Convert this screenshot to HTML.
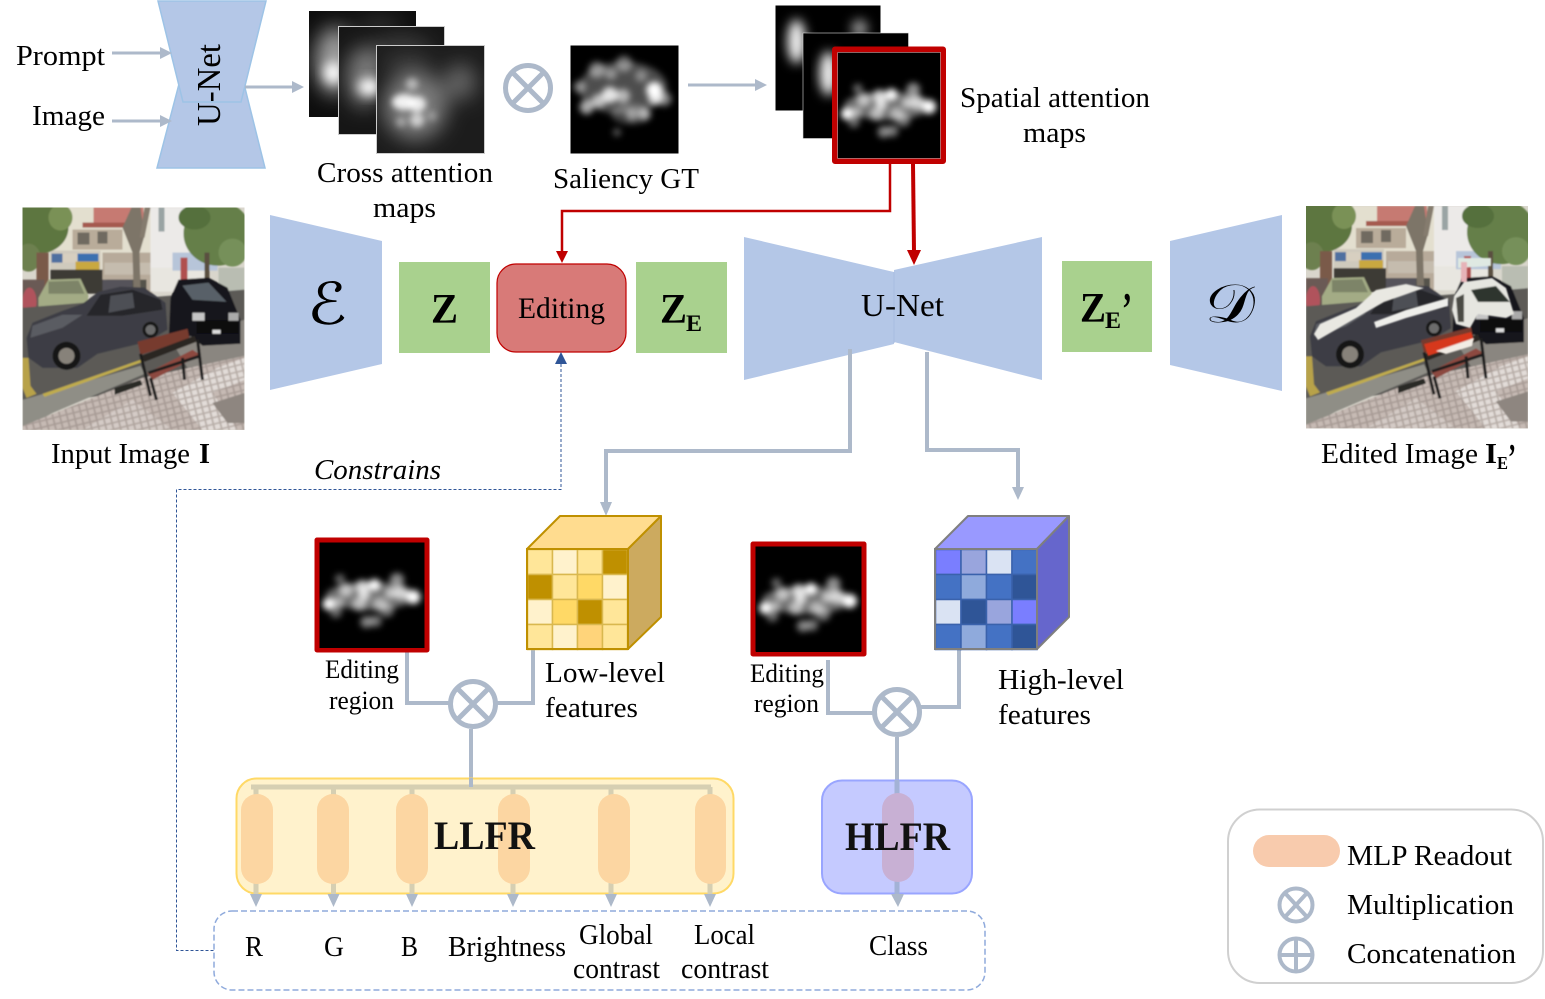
<!DOCTYPE html>
<html><head><meta charset="utf-8"><style>
html,body{margin:0;padding:0;background:#fff}
svg{display:block}
text{font-family:"Liberation Serif","DejaVu Serif",serif;fill:#000;font-size:28px}
.b{font-weight:bold}
</style></head><body>
<svg width="1545" height="999" viewBox="0 0 1545 999" xmlns="http://www.w3.org/2000/svg">
<defs>
<filter id="b1" x="-30%" y="-30%" width="160%" height="160%"><feGaussianBlur stdDeviation="3.2"/></filter>
<filter id="b2" x="-50%" y="-50%" width="200%" height="200%"><feGaussianBlur stdDeviation="5.5"/></filter>
<filter id="b3" x="-50%" y="-50%" width="200%" height="200%"><feGaussianBlur stdDeviation="10"/></filter>
<filter id="p" x="-5%" y="-5%" width="110%" height="110%"><feGaussianBlur stdDeviation="0.8"/></filter>
<pattern id="tile" width="7" height="6.4" patternUnits="userSpaceOnUse" patternTransform="rotate(-14)"><rect width="7" height="6.4" fill="#a89c96"/><rect x="0.8" y="0.8" width="5.2" height="4.8" fill="#c6bab4"/></pattern>
<pattern id="tile2" width="7" height="6.4" patternUnits="userSpaceOnUse" patternTransform="rotate(-14)"><rect width="7" height="6.4" fill="#b8aea8"/><rect x="0.8" y="0.8" width="5.2" height="4.8" fill="#e2dcd8"/></pattern>

<symbol id="sal" viewBox="0 0 103 105" preserveAspectRatio="none">
<rect width="103" height="105" fill="#000"/>
<g filter="url(#b1)" fill="#fff">
<ellipse cx="50" cy="53" rx="44" ry="14" opacity=".42"/>
<circle cx="9" cy="61" r="6"/><circle cx="26" cy="47" r="7" opacity=".6"/><circle cx="18" cy="60" r="6" opacity=".5"/>
<circle cx="42" cy="44" r="7" opacity=".75"/><circle cx="54" cy="42" r="6"/><circle cx="39" cy="61" r="7" opacity=".55"/>
<circle cx="76" cy="37" r="7" opacity=".55"/><circle cx="92" cy="54" r="7"/><circle cx="80" cy="50" r="7" opacity=".7"/>
<circle cx="59" cy="61" r="7" opacity=".5"/><circle cx="66" cy="67" r="7" opacity=".45"/><circle cx="46" cy="79" r="6" opacity=".5"/>
<circle cx="16" cy="69" r="6" opacity=".4"/><circle cx="70" cy="50" r="6" opacity=".6"/><circle cx="20" cy="36" r="5" opacity=".4"/><circle cx="55" cy="78" r="6" opacity=".45"/><circle cx="44" cy="52" r="6" opacity=".7"/>
</g></symbol>

<symbol id="photo" viewBox="0 0 222 222" preserveAspectRatio="none">
<rect width="222" height="222" fill="#d9d6cc"/>
<g filter="url(#p)">
<rect x="28" y="0" width="100" height="85" fill="#e3dfcf"/>
<rect x="71" y="0" width="50" height="16" fill="#c67a72"/>
<rect x="60" y="15" width="60" height="5" fill="#a55a50"/>
<rect x="50" y="22" width="50" height="20" fill="#b9ac9a"/>
<rect x="55" y="25" width="12" height="12" fill="#6f6a60"/><rect x="75" y="24" width="10" height="12" fill="#6f6a60"/>
<rect x="28" y="43" width="50" height="32" fill="#cfcabd"/>
<rect x="29" y="46" width="11" height="9" fill="#4f6fa0"/><rect x="40" y="46" width="15" height="9" fill="#d7cfc0"/>
<rect x="55" y="46" width="21" height="8" fill="#3a6fb0"/><rect x="53" y="54" width="24" height="10" fill="#c9a83f"/>
<rect x="28" y="62" width="52" height="24" fill="#3d3b36"/>
<rect x="80" y="45" width="50" height="40" fill="#b7aa9a"/><rect x="82" y="55" width="46" height="12" fill="#c5bcae"/><rect x="84" y="72" width="40" height="14" fill="#55524c"/>
<rect x="128" y="0" width="40" height="70" fill="#eceae8"/><rect x="136" y="0" width="6" height="24" fill="#9aa4a4"/>
<rect x="128" y="60" width="55" height="24" fill="#e8e6e0"/><rect x="150" y="45" width="45" height="18" fill="#b7c5d9"/>
<rect x="158" y="50" width="7" height="22" fill="#b05050"/>
<ellipse cx="195" cy="26" rx="34" ry="32" fill="#657f48"/><ellipse cx="172" cy="10" rx="16" ry="12" fill="#55703c"/><ellipse cx="210" cy="45" rx="14" ry="14" fill="#76905a"/><rect x="182" y="45" width="5" height="30" fill="#5a5040"/>
<rect x="196" y="60" width="26" height="30" fill="#b9bdb2"/>
<ellipse cx="16" cy="20" rx="30" ry="26" fill="#5d7640"/><ellipse cx="38" cy="10" rx="12" ry="13" fill="#7a9156"/><ellipse cx="6" cy="50" rx="12" ry="14" fill="#6d8050"/>
<rect x="14" y="45" width="12" height="60" fill="#7a5a48"/>
<polygon points="109,0 118,0 122,28 117,45 118,80 111,80 110,45 100,20" fill="#7d7468"/><polygon points="122,0 128,0 122,30 117,30" fill="#857b6e"/>
<rect x="0" y="72" width="22" height="40" fill="#6b5a55"/><ellipse cx="7" cy="94" rx="7" ry="14" fill="#b0525c"/>
<polygon points="16,90 26,72 58,71 66,88 64,100 16,102" fill="#a3ab85"/><polygon points="26,74 56,73 62,86 26,86" fill="#7d8468"/>
<rect x="80" y="72" width="30" height="12" fill="#55525a"/>
<polygon points="0,100 222,82 222,165 0,200" fill="#5b5a57"/>
<polygon points="150,135 222,112 222,150 165,160" fill="#8a8680"/>
<polygon points="0,192 118,158 122,166 30,205 0,222" fill="#8f8e86"/>
<polygon points="0,222 0,218 120,170 222,148 222,222" fill="url(#tile)"/>
<polygon points="150,185 195,160 222,150 222,172 190,185 215,222 180,222" fill="url(#tile2)"/>
<polygon points="60,222 110,192 150,222" fill="url(#tile2)" opacity=".5"/>
<polygon points="190,195 222,185 222,215 205,215" fill="#8e8680"/>
<polygon points="0,150 6,150 8,178 14,186 4,190 0,180" fill="#b8a248"/>
<polygon points="20,186 118,152 120,154 22,189" fill="#c0ac4e"/>
<polygon points="146,136 148,90 156,72 186,70 205,80 218,112 218,136 180,138 168,128" fill="#19191b"/>
<polygon points="160,78 186,75 204,94 170,92" fill="#596068"/>
<rect x="174" y="112" width="42" height="14" fill="#0e0e10"/><rect x="170" y="105" width="12" height="8" fill="#c5c5c5"/><rect x="206" y="105" width="10" height="8" fill="#aaa"/>
<rect x="190" y="122" width="8" height="4" fill="#ddd"/>
<polygon points="4,130 10,115 40,103 60,96 76,84 98,79 122,80 143,95 145,122 125,134 75,146 55,160 20,160 6,150" fill="#3d3e44"/>
<polygon points="64,108 78,87 110,82 138,92 140,102 100,108" fill="#26272b"/><polygon points="88,88 110,85 112,100 86,105" fill="#4d4f55"/>
<polygon points="10,118 40,107 60,107 40,120 8,130" fill="#5a5c62"/>
<circle cx="44" cy="148" r="14" fill="#191919"/><circle cx="44" cy="148" r="8" fill="#87827a"/><circle cx="128" cy="122" r="8" fill="#191919"/><circle cx="128" cy="122" r="5" fill="#6c6c6c"/>
<polygon points="115,134 165,121 167,131 118,147" fill="#773a2f"/>
<polygon points="118,148 172,128 174,134 122,154" fill="#2b2624"/>
<polygon points="125,165 170,142 178,147 130,172" fill="#8c4a40"/>
<path d="M118 146 L128 188 M128 170 L134 192 M175 132 L180 172 M160 150 L162 172 M126 165 L178 148" stroke="#1f1d1c" stroke-width="3" fill="none"/>
<polygon points="92,180 118,172 120,177 92,187" fill="#2a2a28"/>
</g>
</symbol>
</defs>

<!-- Top U-Net -->
<polygon points="157,168 179,84 245,88 265,168" fill="#b4c7e7" stroke="#9dc3e6" stroke-width="1.5"/>
<polygon points="158,1 266,1 241,102 183,102" fill="#b4c7e7" stroke="#9dc3e6" stroke-width="1.5"/>
<text transform="translate(220,126) rotate(-90)" style="font-size:34px" textLength="82" lengthAdjust="spacingAndGlyphs">U-Net</text>

<text x="16" y="65" textLength="89" lengthAdjust="spacingAndGlyphs">Prompt</text>
<text x="32" y="125" textLength="73" lengthAdjust="spacingAndGlyphs">Image</text>
<g stroke="#adb9ca" stroke-width="3" fill="none"><path d="M112 53H162M112 121H162M245 87H294M688 85H757"/></g>
<g fill="#adb9ca"><path d="M160 47L172 53L160 59ZM160 115L172 121L160 127ZM292 81L304 87L292 93ZM755 79L767 85L755 91Z"/></g>

<!-- Cross attention maps -->
<svg x="309" y="11" width="107" height="106" viewBox="0 0 107 106"><rect width="107" height="106" fill="#0d0d0d"/><g fill="#fff" filter="url(#b3)"><ellipse cx="26" cy="50" rx="20" ry="34" opacity=".6"/><ellipse cx="70" cy="15" rx="25" ry="12" opacity=".12"/></g><g fill="#fff" filter="url(#b2)"><ellipse cx="24" cy="62" rx="9" ry="11"/></g></svg>
<rect x="338.500" y="26.500" width="106" height="108" fill="#161616" stroke="#ccc" stroke-width="1"/>
<svg x="339" y="27" width="105" height="107" viewBox="0 0 105 107"><g fill="#fff" filter="url(#b3)"><ellipse cx="25" cy="50" rx="18" ry="30" opacity=".42"/><ellipse cx="62" cy="30" rx="34" ry="22" opacity=".16"/></g><g fill="#fff" filter="url(#b2)"><ellipse cx="30" cy="60" rx="11" ry="9"/></g></svg>
<rect x="376.500" y="45.500" width="108" height="108" fill="#1c1c1c" stroke="#ccc" stroke-width="1"/>
<svg x="377" y="46" width="107" height="107" viewBox="0 0 107 107"><g fill="#fff" filter="url(#b3)"><ellipse cx="38" cy="60" rx="32" ry="34" opacity=".42"/><ellipse cx="83" cy="36" rx="16" ry="18" opacity=".32"/><ellipse cx="30" cy="18" rx="24" ry="12" opacity=".12"/></g><g fill="#fff" filter="url(#b1)"><ellipse cx="27" cy="56" rx="12" ry="8" opacity=".9"/><ellipse cx="40" cy="58" rx="9" ry="8" opacity=".85"/><circle cx="40" cy="74" r="7" opacity=".65"/><circle cx="24" cy="76" r="5" opacity=".4"/><circle cx="35" cy="38" r="6" opacity=".5"/><circle cx="55" cy="70" r="5" opacity=".3"/></g></svg>

<text x="317" y="182" textLength="176" lengthAdjust="spacingAndGlyphs">Cross attention</text>
<text x="373" y="217" textLength="63" lengthAdjust="spacingAndGlyphs">maps</text>

<!-- multiply top -->
<g fill="none" stroke="#adb9ca" stroke-width="5"><circle cx="528" cy="88" r="22.500"/><path d="M512 72L544 104M544 72L512 104"/></g>

<!-- Saliency GT -->
<svg x="570.500" y="45.500" width="108" height="108" viewBox="0 0 107 107"><rect width="107" height="107" fill="#000"/><g fill="#fff" filter="url(#b1)">
<ellipse cx="52" cy="42" rx="44" ry="26" opacity=".3"/><ellipse cx="60" cy="68" rx="20" ry="10" opacity=".25"/>
<circle cx="83" cy="44" r="8"/><circle cx="84" cy="52" r="7" opacity=".8"/><circle cx="39" cy="49" r="8" opacity=".85"/><circle cx="28" cy="55" r="7" opacity=".65"/><circle cx="16" cy="61" r="7" opacity=".65"/><circle cx="52" cy="50" r="7" opacity=".6"/><circle cx="73" cy="68" r="6" opacity=".6"/><circle cx="61" cy="69" r="6" opacity=".45"/><circle cx="26" cy="24" r="8" opacity=".45"/><circle cx="53" cy="18" r="8" opacity=".4"/><circle cx="9" cy="41" r="6" opacity=".45"/><circle cx="46" cy="86" r="4" opacity=".35"/><circle cx="93" cy="53" r="7" opacity=".5"/><circle cx="70" cy="30" r="6" opacity=".35"/><circle cx="40" cy="28" r="6" opacity=".4"/></g></svg>
<text x="553" y="188" textLength="146" lengthAdjust="spacingAndGlyphs">Saliency GT</text>

<!-- Spatial attention -->
<svg x="775.500" y="5.500" width="105" height="105" viewBox="0 0 105 105"><rect width="105" height="105" fill="#000"/><g fill="#fff" filter="url(#b2)"><ellipse cx="21" cy="36" rx="9" ry="22" opacity=".95"/><ellipse cx="84" cy="23" rx="8" ry="9" opacity=".6"/></g></svg>
<rect x="803" y="33" width="105.500" height="105.500" fill="#000" stroke="#ddd" stroke-width=".6"/>
<svg x="803.500" y="33.500" width="105" height="105" viewBox="0 0 105 105"><g fill="#fff" filter="url(#b2)"><ellipse cx="25" cy="40" rx="9" ry="22" opacity=".95"/></g></svg>
<rect x="835" y="49.500" width="108" height="111.500" fill="none" stroke="#c00000" stroke-width="6" stroke-linejoin="round"/>
<use href="#sal" x="838" y="52.500" width="102" height="105.500"/>
<rect x="837.700" y="52.500" width="103" height="106" fill="none" stroke="#aaa" stroke-width=".6"/>
<text x="960" y="107" textLength="190" lengthAdjust="spacingAndGlyphs">Spatial attention</text>
<text x="1023" y="142" textLength="63" lengthAdjust="spacingAndGlyphs">maps</text>

<!-- Photos -->
<use href="#photo" x="22.500" y="207.500" width="222" height="222.500"/>
<g transform="translate(1306,206)">
<use href="#photo" x="0" y="0" width="222" height="222.500"/>
<g filter="url(#p)">
<polygon points="8,128 14,118 50,102 70,84 100,78 118,82 78,96 50,112 12,134" fill="#e9e8e2"/>
<polygon points="68,116 100,104 142,92 142,100 100,112 70,122" fill="#eeeeea"/>
<polygon points="146,104 148,90 158,76 186,72 200,82 208,108 200,112 172,108 164,122 150,118" fill="#e6e6e0"/>
<polygon points="165,84 190,80 204,96 172,96" fill="#2e352e"/>
<polygon points="150,92 158,88 158,116 152,116" fill="#4b4b44"/>
<polygon points="118,138 165,126 168,134 150,141 122,150" fill="#d6391b"/>
<polygon points="130,145 168,132 166,140 140,148" fill="#f2ece4"/>
<polygon points="152,52 185,52 185,60 152,62" fill="#dfe9e2"/>
<rect x="155" y="56" width="6" height="20" fill="#e6b3b8"/>
</g></g>
<text x="51" y="463" textLength="139" lengthAdjust="spacingAndGlyphs">Input Image</text>
<text x="199" y="463" class="b" textLength="11" lengthAdjust="spacingAndGlyphs">I</text>
<text x="1321" y="463" textLength="157" lengthAdjust="spacingAndGlyphs">Edited Image</text>
<text x="1485" y="463" class="b" textLength="12" lengthAdjust="spacingAndGlyphs">I</text>
<text x="1497" y="469" class="b" style="font-size:18px" textLength="11" lengthAdjust="spacingAndGlyphs">E</text>
<text x="1508" y="470" class="b" style="font-size:38px" textLength="8" lengthAdjust="spacingAndGlyphs">’</text>

<!-- Main pipeline -->
<polygon points="270,215 382,241 382,364 270,390" fill="#b4c7e7"/>
<text x="307" y="324" style="font-size:58px;font-family:'DejaVu Serif','DejaVu Sans',serif" textLength="40" lengthAdjust="spacingAndGlyphs">ℰ</text>
<rect x="399" y="262" width="91" height="91" fill="#a9d18e"/>
<text x="431" y="323" class="b" style="font-size:42px" textLength="27" lengthAdjust="spacingAndGlyphs">Z</text>
<rect x="497" y="264" width="129" height="88" rx="19" fill="#d87a78" stroke="#c00000" stroke-width="1.200"/>
<text x="518" y="318" style="font-size:30px" textLength="87" lengthAdjust="spacingAndGlyphs">Editing</text>
<rect x="636" y="262" width="91" height="91" fill="#a9d18e"/>
<text x="660" y="323" class="b" style="font-size:42px" textLength="27" lengthAdjust="spacingAndGlyphs">Z</text>
<text x="686" y="331" class="b" style="font-size:23px" textLength="16" lengthAdjust="spacingAndGlyphs">E</text>
<polygon points="744,237 894,272 894,344 744,380" fill="#b4c7e7"/>
<polygon points="894,270 1042,237 1042,380 894,342" fill="#b4c7e7"/>
<line x1="894" y1="272" x2="894" y2="343" stroke="#a7bce0" stroke-width="1"/>
<text x="861" y="316" style="font-size:32px" textLength="83" lengthAdjust="spacingAndGlyphs">U-Net</text>
<rect x="1062" y="261" width="90" height="91" fill="#a9d18e"/>
<text x="1080" y="322" class="b" style="font-size:42px" textLength="26" lengthAdjust="spacingAndGlyphs">Z</text>
<text x="1105" y="328" class="b" style="font-size:23px" textLength="16" lengthAdjust="spacingAndGlyphs">E</text>
<text x="1122" y="324" class="b" style="font-size:46px" textLength="10" lengthAdjust="spacingAndGlyphs">’</text>
<polygon points="1170,241 1282,215 1282,391 1170,365" fill="#b4c7e7"/>
<text x="1205" y="322" style="font-size:54px;font-family:'DejaVu Serif','DejaVu Sans',serif" textLength="50" lengthAdjust="spacingAndGlyphs">𝒟</text>
<!-- red connectors -->
<path d="M890 164V211H562V252" fill="none" stroke="#c00000" stroke-width="2.500"/>
<path d="M556 251H568L562 263Z" fill="#c00000"/>
<path d="M913 164L914 252" fill="none" stroke="#c00000" stroke-width="4"/>
<path d="M907 250H921L914 265Z" fill="#c00000"/>
<!-- grey connectors -->
<g fill="none" stroke="#adb9ca" stroke-width="4">
<path d="M850 349V451H606V503"/>
<path d="M927 352V450H1018V488"/>
<path d="M407 652V703H449M533 650V703H497M471 729V780"/>
<path d="M828 660V713H873M959 650V707H921M897 737V782"/>
</g>
<path d="M600 502H612L606 516ZM1012 487H1024L1018 500Z" fill="#adb9ca"/>
<!-- dashed -->
<path d="M561 364V489.500H176.500V950.500H214" fill="none" stroke="#2f5597" stroke-width="1" stroke-dasharray="3 2"/>
<path d="M555 364H567L561 352Z" fill="#2f5597"/>
<text x="314" y="479" style="font-style:italic" textLength="127" lengthAdjust="spacingAndGlyphs">Constrains</text>

<!-- Editing regions -->
<rect x="317" y="540" width="110" height="110" fill="#000" stroke="#c00000" stroke-width="5" stroke-linejoin="round"/>
<use href="#sal" x="319.500" y="543" width="105" height="105"/>
<rect x="753" y="544" width="111" height="110" fill="#000" stroke="#c00000" stroke-width="5" stroke-linejoin="round"/>
<use href="#sal" x="756" y="547" width="105" height="105"/>
<text x="325" y="678" style="font-size:26px" textLength="74" lengthAdjust="spacingAndGlyphs">Editing</text>
<text x="329" y="709" style="font-size:26px" textLength="65" lengthAdjust="spacingAndGlyphs">region</text>
<text x="750" y="682" style="font-size:26px" textLength="74" lengthAdjust="spacingAndGlyphs">Editing</text>
<text x="754" y="712" style="font-size:26px" textLength="65" lengthAdjust="spacingAndGlyphs">region</text>

<!-- Low cube -->
<g stroke="#bf9000" stroke-width="2" stroke-linejoin="round">
<polygon points="527,549 560,516 661,516 628,549" fill="#ffdc8f"/>
<polygon points="628,549 661,516 661,617 628,649" fill="#ccaa5f"/>
</g>
<g stroke="#d9b84f" stroke-width="1.500">
<rect x="527.500" y="549.500" width="25" height="25" fill="#ffe699"/><rect x="552.500" y="549.500" width="25" height="25" fill="#fff2cc"/><rect x="577.500" y="549.500" width="25" height="25" fill="#ffe699"/><rect x="602.500" y="549.500" width="25" height="25" fill="#bf9000"/>
<rect x="527.500" y="574.500" width="25" height="25" fill="#bf9000"/><rect x="552.500" y="574.500" width="25" height="25" fill="#ffe699"/><rect x="577.500" y="574.500" width="25" height="25" fill="#ffd966"/><rect x="602.500" y="574.500" width="25" height="25" fill="#fff2cc"/>
<rect x="527.500" y="599.500" width="25" height="25" fill="#fff2cc"/><rect x="552.500" y="599.500" width="25" height="25" fill="#ffd966"/><rect x="577.500" y="599.500" width="25" height="25" fill="#bf9000"/><rect x="602.500" y="599.500" width="25" height="25" fill="#ffe699"/>
<rect x="527.500" y="624.500" width="25" height="25" fill="#ffe699"/><rect x="552.500" y="624.500" width="25" height="25" fill="#fff2cc"/><rect x="577.500" y="624.500" width="25" height="25" fill="#ffd47a"/><rect x="602.500" y="624.500" width="25" height="25" fill="#ffe699"/>
</g>
<rect x="527" y="549" width="101" height="100" fill="none" stroke="#bf9000" stroke-width="2"/>
<text x="545" y="682" textLength="120" lengthAdjust="spacingAndGlyphs">Low-level</text>
<text x="545" y="717" textLength="93" lengthAdjust="spacingAndGlyphs">features</text>

<!-- High cube -->
<g stroke="#7f7f7f" stroke-width="2" stroke-linejoin="round">
<polygon points="935,549 968,516 1069,516 1037,549" fill="#9999ff"/>
<polygon points="1037,549 1069,516 1069,617 1037,649" fill="#6666cc"/>
</g>
<g stroke="#3a62ac" stroke-width="1.500">
<rect x="935.500" y="549.500" width="25.500" height="25" fill="#7a7eff"/><rect x="961" y="549.500" width="25.500" height="25" fill="#99a5dd"/><rect x="986.500" y="549.500" width="25.500" height="25" fill="#dae3f3"/><rect x="1012" y="549.500" width="25" height="25" fill="#4472c4"/>
<rect x="935.500" y="574.500" width="25.500" height="25" fill="#4472c4"/><rect x="961" y="574.500" width="25.500" height="25" fill="#8faadc"/><rect x="986.500" y="574.500" width="25.500" height="25" fill="#4472c4"/><rect x="1012" y="574.500" width="25" height="25" fill="#2f5597"/>
<rect x="935.500" y="599.500" width="25.500" height="25" fill="#dae3f3"/><rect x="961" y="599.500" width="25.500" height="25" fill="#2f5597"/><rect x="986.500" y="599.500" width="25.500" height="25" fill="#99a5dd"/><rect x="1012" y="599.500" width="25" height="25" fill="#7a7eff"/>
<rect x="935.500" y="624.500" width="25.500" height="25" fill="#4472c4"/><rect x="961" y="624.500" width="25.500" height="25" fill="#8faadc"/><rect x="986.500" y="624.500" width="25.500" height="25" fill="#4472c4"/><rect x="1012" y="624.500" width="25" height="25" fill="#2f5597"/>
</g>
<rect x="935" y="549" width="102" height="100" fill="none" stroke="#7f7f7f" stroke-width="2"/>
<text x="998" y="689" textLength="126" lengthAdjust="spacingAndGlyphs">High-level</text>
<text x="998" y="724" textLength="93" lengthAdjust="spacingAndGlyphs">features</text>

<!-- Multiply circles -->
<g fill="#fff" stroke="#adb9ca" stroke-width="5"><circle cx="473" cy="704" r="22.500"/><path d="M457 688L489 720M489 688L457 720" fill="none"/>
<circle cx="897" cy="712" r="22.500"/><path d="M881 696L913 728M913 696L881 728" fill="none"/></g>

<!-- LLFR -->
<rect x="236.500" y="778.500" width="497" height="115" rx="20" fill="#fff2cc" stroke="#ffd966" stroke-width="2"/>
<g stroke="#d6cfb2" fill="none"><path d="M251 787H711" stroke-width="5"/><path d="M471 778V787" stroke="#adb9ca" stroke-width="4"/>
<path d="M256 787V895M333.500 787V895M412 787V895M513 787V895M611 787V895M710 787V895" stroke-width="5"/></g>
<g fill="#fcd6a2"><rect x="241" y="794" width="32" height="90" rx="16"/><rect x="317" y="794" width="32" height="90" rx="16"/><rect x="396" y="794" width="32" height="90" rx="16"/><rect x="498" y="794" width="32" height="90" rx="16"/><rect x="598" y="794" width="32" height="90" rx="16"/><rect x="695" y="794" width="31" height="90" rx="16"/></g>
<path d="M250 894H262L256 907ZM327.500 894H339.500L333.500 907ZM406 894H418L412 907ZM507 894H519L513 907ZM605 894H617L611 907ZM704 894H716L710 907Z" fill="#adb9ca"/>
<text x="434" y="849" class="b" style="font-size:40px;fill:#111" textLength="101" lengthAdjust="spacingAndGlyphs">LLFR</text>

<!-- HLFR -->
<rect x="822" y="780.500" width="150" height="113" rx="20" fill="#c5caff" stroke="#99a5ff" stroke-width="2"/>
<path d="M897 780V895" stroke="#a3b2d6" stroke-width="5"/>
<rect x="882" y="793" width="32" height="89" rx="16" fill="#c8b0d4"/>
<path d="M891 894H904L898 907Z" fill="#adb9ca"/>
<text x="845" y="850" class="b" style="font-size:40px;fill:#111" textLength="105" lengthAdjust="spacingAndGlyphs">HLFR</text>

<!-- Output box -->
<rect x="214" y="911" width="771" height="79" rx="18" fill="none" stroke="#8faadc" stroke-width="1.500" stroke-dasharray="6 3"/>
<text x="245" y="956" textLength="18" lengthAdjust="spacingAndGlyphs">R</text>
<text x="324" y="956" textLength="20" lengthAdjust="spacingAndGlyphs">G</text>
<text x="401" y="956" textLength="17" lengthAdjust="spacingAndGlyphs">B</text>
<text x="448" y="956" textLength="118" lengthAdjust="spacingAndGlyphs">Brightness</text>
<text x="579" y="944" textLength="74" lengthAdjust="spacingAndGlyphs">Global</text>
<text x="573" y="978" textLength="87" lengthAdjust="spacingAndGlyphs">contrast</text>
<text x="694" y="944" textLength="61" lengthAdjust="spacingAndGlyphs">Local</text>
<text x="681" y="978" textLength="88" lengthAdjust="spacingAndGlyphs">contrast</text>
<text x="869" y="955" textLength="59" lengthAdjust="spacingAndGlyphs">Class</text>

<!-- Legend -->
<rect x="1228" y="809.500" width="315" height="173.500" rx="32" fill="#fff" stroke="#d0d0d0" stroke-width="2"/>
<rect x="1253" y="835" width="87" height="32" rx="16" fill="#f8cbad"/>
<g fill="none" stroke="#adb9ca" stroke-width="4"><ellipse cx="1296" cy="905" rx="16.500" ry="16.500"/><path d="M1285 893L1307 917M1307 893L1285 917"/>
<ellipse cx="1296" cy="955" rx="16.500" ry="16.500"/><path d="M1279 955H1313M1296 938V972"/></g>
<text x="1347" y="865" textLength="165" lengthAdjust="spacingAndGlyphs">MLP Readout</text>
<text x="1347" y="914" textLength="167" lengthAdjust="spacingAndGlyphs">Multiplication</text>
<text x="1347" y="963" textLength="169" lengthAdjust="spacingAndGlyphs">Concatenation</text>
</svg>
</body></html>
